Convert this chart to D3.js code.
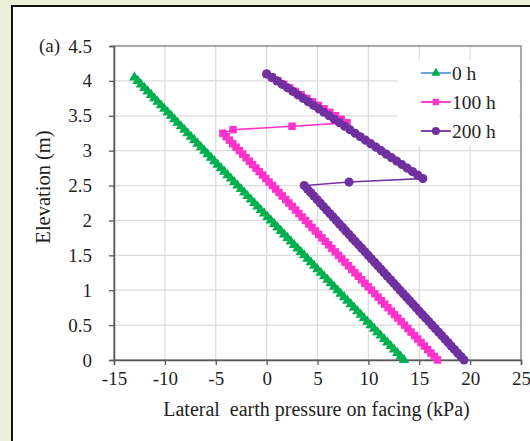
<!DOCTYPE html>
<html>
<head>
<meta charset="utf-8">
<script src="https://cdn.jsdelivr.net/npm/d3@7"></script>
<style>
  body { margin: 0; background: #fff; }
  svg { display: block; }
  text { font-family: "Liberation Serif", "Times New Roman", serif; fill: #1f1f1f; }
</style>
</head>
<body>
<div id="chart"></div>
<script>
// elevation of each reading (m)
var elevation = [0, 0.05, 0.1, 0.15, 0.2, 0.25, 0.3, 0.35, 0.4, 0.45, 0.5, 0.55, 0.6, 0.65, 0.7, 0.75, 0.8, 0.85, 0.9, 0.95,
  1, 1.05, 1.1, 1.15, 1.2, 1.25, 1.3, 1.35, 1.4, 1.45, 1.5, 1.55, 1.6, 1.65, 1.7, 1.75, 1.8, 1.85, 1.9, 1.95,
  2, 2.05, 2.1, 2.15, 2.2, 2.25, 2.3, 2.35, 2.4, 2.45, 2.5, 2.55, 2.6, 2.65, 2.7, 2.75, 2.8, 2.85, 2.9, 2.95,
  3, 3.05, 3.1, 3.15, 3.2, 3.25, 3.3, 3.35, 3.4, 3.45, 3.5, 3.55, 3.6, 3.65, 3.7, 3.75, 3.8, 3.85, 3.9, 3.95,
  4, 4.05, 4.1];

// lateral earth pressure (kPa) at each elevation
var p0h = [13.50, 13.17, 12.85, 12.52, 12.19, 11.86, 11.54, 11.21, 10.88, 10.56, 10.23, 9.90, 9.57, 9.25, 8.92, 8.59, 8.27, 7.94, 7.61, 7.28,
  6.96, 6.63, 6.30, 5.98, 5.65, 5.32, 4.99, 4.67, 4.34, 4.01, 3.69, 3.36, 3.03, 2.70, 2.38, 2.05, 1.72, 1.39, 1.07, 0.74,
  0.41, 0.09, -0.24, -0.57, -0.90, -1.22, -1.55, -1.88, -2.20, -2.53, -2.86, -3.19, -3.51, -3.84, -4.17, -4.49, -4.82, -5.15, -5.48, -5.80,
  -6.13, -6.46, -6.78, -7.11, -7.44, -7.77, -8.09, -8.42, -8.75, -9.07, -9.40, -9.73, -10.06, -10.38, -10.71, -11.04, -11.36, -11.69, -12.02, -12.35,
  -12.67, -13.00];
var p100h = [16.80, 16.48, 16.15, 15.83, 15.50, 15.18, 14.85, 14.53, 14.20, 13.88, 13.55, 13.23, 12.90, 12.58, 12.26, 11.93, 11.61, 11.28, 10.96, 10.63,
  10.31, 9.98, 9.66, 9.33, 9.01, 8.68, 8.36, 8.04, 7.71, 7.39, 7.06, 6.74, 6.41, 6.09, 5.76, 5.44, 5.11, 4.79, 4.46, 4.14,
  3.82, 3.49, 3.17, 2.84, 2.52, 2.19, 1.87, 1.54, 1.22, 0.89, 0.57, 0.24, -0.08, -0.40, -0.73, -1.05, -1.38, -1.70, -2.03, -2.35,
  -2.68, -3.00, -3.33, -3.65, -3.98, -4.30, -3.30, 2.50, 7.90, 7.34, 6.77, 6.21, 5.64, 5.08, 4.51, 3.95, 3.39, 2.82, 2.26, 1.69,
  1.13, 0.56, 0.00];
var p200h = [19.40, 19.09, 18.77, 18.46, 18.14, 17.83, 17.52, 17.20, 16.89, 16.57, 16.26, 15.95, 15.63, 15.32, 15.00, 14.69, 14.38, 14.06, 13.75, 13.43,
  13.12, 12.81, 12.49, 12.18, 11.86, 11.55, 11.24, 10.92, 10.61, 10.29, 9.98, 9.67, 9.35, 9.04, 8.72, 8.41, 8.10, 7.78, 7.47, 7.15,
  6.84, 6.53, 6.21, 5.90, 5.58, 5.27, 4.96, 4.64, 4.33, 4.01, 3.70, 8.10, 15.35, 14.84, 14.33, 13.81, 13.30, 12.79, 12.28, 11.77,
  11.26, 10.75, 10.23, 9.72, 9.21, 8.70, 8.19, 7.67, 7.16, 6.65, 6.14, 5.63, 5.12, 4.60, 4.09, 3.58, 3.07, 2.56, 2.05, 1.53,
  1.02, 0.51, 0.00];

var seriesNames = ["0 h", "100 h", "200 h"];
var xTicks = [-15, -10, -5, 0, 5, 10, 15, 20, 25];
var yTicks = [0, 0.5, 1, 1.5, 2, 2.5, 3, 3.5, 4, 4.5];

var W = 530, H = 441;
var margin = {top: 46, right: 9, bottom: 81, left: 114},
    width = W - margin.left - margin.right,
    height = H - margin.top - margin.bottom;

var root = d3.select("#chart")
    .append("svg")
    .attr("width", W)
    .attr("height", H);

// pale frame round the figure
root.append("rect").attr("width", W).attr("height", H).attr("fill", "#ecf0d9");
root.append("rect").attr("x", 13).attr("y", 6).attr("width", W - 13).attr("height", H - 6).attr("fill", "#fff");
root.append("line").attr("x1", 12).attr("x2", W).attr("y1", 6).attr("y2", 6).attr("stroke", "#111").attr("stroke-width", 2);
root.append("line").attr("x1", 12).attr("x2", 12).attr("y1", 5).attr("y2", H).attr("stroke", "#111").attr("stroke-width", 2);

var svg = root.append("g")
    .attr("transform", "translate(" + margin.left + "," + margin.top + ")");

var x = d3.scaleLinear().domain([-15, 25]).range([0, width]);
var y = d3.scaleLinear().domain([0, 4.5]).range([height, 0]);

// gridlines
svg.append("g")
    .selectAll("line.gx")
    .data(xTicks.slice(1, -1))
    .enter()
    .append("line")
    .attr("x1", d => x(d)).attr("x2", d => x(d))
    .attr("y1", 0).attr("y2", height)
    .attr("stroke", "#dcdcdc").attr("stroke-width", 1.3);
svg.append("g")
    .selectAll("line.gy")
    .data(yTicks.slice(1, -1))
    .enter()
    .append("line")
    .attr("x1", 0).attr("x2", width)
    .attr("y1", d => y(d)).attr("y2", d => y(d))
    .attr("stroke", "#dcdcdc").attr("stroke-width", 1.3);

// plot frame
svg.append("rect")
    .attr("width", width).attr("height", height)
    .attr("fill", "none").attr("stroke", "#8c8c8c").attr("stroke-width", 1.5);

// axes
var xAxis = svg.append("g")
    .attr("transform", "translate(0," + height + ")")
    .call(d3.axisBottom(x).tickValues(xTicks).tickSize(5).tickPadding(7).tickFormat(d3.format("d")));
var yAxis = svg.append("g")
    .call(d3.axisLeft(y).tickValues(yTicks).tickSize(5).tickPadding(17).tickFormat(d => d));
[xAxis, yAxis].forEach(function (a) {
    a.select(".domain").attr("stroke", "#595959").attr("stroke-width", 1.5);
    a.selectAll(".tick line").attr("stroke", "#595959").attr("stroke-width", 1.3);
    a.selectAll(".tick text")
        .style("font-family", "Liberation Serif, serif")
        .style("font-size", "19px")
        .attr("fill", "#1f1f1f");
});
xAxis.selectAll(".tick text").text(d => d < 0 ? "-" + Math.abs(d) : d);

// series
var line = d3.line()
    .defined(d => d[1] != null)
    .x(d => x(d[1]))
    .y(d => y(d[0]));

var series = [
    {name: seriesNames[0], values: p0h, line: "#5b9bd5", fill: "#00b050", symbol: d3.symbolTriangle, size: 48},
    {name: seriesNames[1], values: p100h, line: "#ff33cc", fill: "#ff33cc", symbol: d3.symbolSquare, size: 56},
    {name: seriesNames[2], values: p200h, line: "#7030a0", fill: "#7030a0", symbol: d3.symbolCircle, size: 66}
];

series.forEach(function (s) {
    var pts = s.values.map((v, i) => [elevation[i], v]);
    svg.append("path")
        .datum(pts)
        .attr("fill", "none")
        .attr("stroke", s.line)
        .attr("stroke-width", 1.6)
        .attr("d", line);
    svg.append("g")
        .selectAll("path")
        .data(pts)
        .enter()
        .append("path")
        .attr("transform", d => "translate(" + x(d[1]) + "," + y(d[0]) + ")")
        .attr("d", d3.symbol().type(s.symbol).size(s.size))
        .attr("fill", s.fill);
});

// legend
var legend = svg.append("g").attr("transform", "translate(" + (x(13) - 1) + "," + 14 + ")");
legend.append("rect")
    .attr("x", 0).attr("y", 0)
    .attr("width", width - x(13) - 1).attr("height", 86)
    .attr("fill", "#fff");
series.forEach(function (s, i) {
    var g = legend.append("g").attr("transform", "translate(0," + (13 + i * 29) + ")");
    g.append("line").attr("x1", 23).attr("x2", 53).attr("y1", 0).attr("y2", 0)
        .attr("stroke", s.line).attr("stroke-width", 1.8);
    g.append("path").attr("transform", "translate(38,0)")
        .attr("d", d3.symbol().type(s.symbol).size(s.size * 0.75)).attr("fill", s.fill);
    g.append("text").attr("x", 54).attr("y", 6.5)
        .style("font-size", "19.5px").text(s.name);
});

// titles
root.append("text")
    .attr("x", margin.left + width / 2 - 1)
    .attr("y", 416)
    .attr("text-anchor", "middle")
    .style("font-size", "20px")
    .style("white-space", "pre")
    .text("Lateral  earth pressure on facing (kPa)");
root.append("text")
    .attr("transform", "translate(50,187) rotate(-90)")
    .attr("text-anchor", "middle")
    .style("font-size", "20.5px")
    .text("Elevation (m)");
root.append("text")
    .attr("x", 39).attr("y", 52)
    .style("font-size", "19px")
    .text("(a)");
</script>
</body>
</html>
